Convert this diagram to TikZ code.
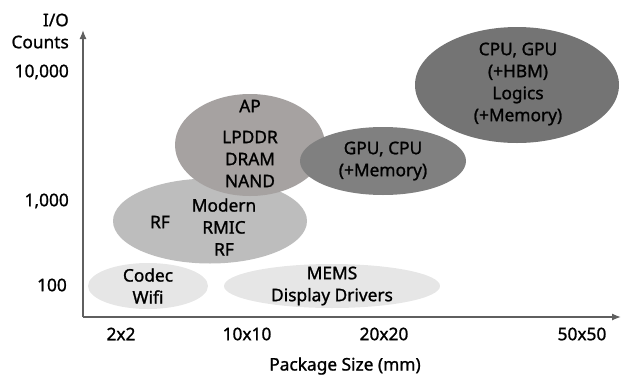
\documentclass[tikz,border=0pt]{standalone}
\usepackage{fontspec}
\setmainfont{Noto Sans}[FakeBold=1.2]
\usepackage{tikz}
\usetikzlibrary{calc,shapes.geometric,arrows.meta}
\usepackage{xcolor}
\definecolor{axisgray}{HTML}{5F5F5F}
\definecolor{palegray}{HTML}{E6E6E6}
\definecolor{midgray}{HTML}{BDBDBD}
\definecolor{warmgray}{HTML}{A6A2A1}
\definecolor{darkgray}{HTML}{808080}
\definecolor{deepgray}{HTML}{747474}
\begin{document}
\begin{tikzpicture}[x=1pt,y=-1pt,
    txt/.style={font=\fontsize{17.3}{22}\selectfont,align=center,inner sep=0pt},
    blob/.style={ellipse,inner sep=0pt,draw=none},
    axis/.style={axisgray,line width=1.3pt,-{Latex[length=9pt,width=7pt]}}]%
  \useasboundingbox (0,0) rectangle (621,378);%
  % axes
  \coordinate (origin) at (83,317);%
  \coordinate (ytip) at (83,30);%
  \coordinate (xtip) at (621,317);%
  % bubbles
  \node[blob,fill=palegray,minimum width=120,minimum height=46] (codec) at (148,286) {};%
  \node[blob,fill=palegray,minimum width=216,minimum height=44] (mems) at (332,286) {};%
  \node[blob,fill=midgray,minimum width=194,minimum height=85] (rf) at (210,221) {};%
  \node[blob,fill=warmgray,minimum width=150,minimum height=102] (ap) at (250,145) {};%
  \node[blob,fill=darkgray,minimum width=166,minimum height=68] (gpu) at (383,161) {};%
  \node[blob,fill=deepgray,minimum width=204,minimum height=116] (cpu) at (517,85) {};%
  \draw[axis] (origin) -- (ytip);%
  \draw[axis] (origin) -- (xtip);%
  % bubble texts
  \node[txt] (codectxt) at (148,286) {Codec\\Wifi};%
  \node[txt] (memstxt) at (332,286) {MEMS\\Display Drivers};%
  \node[txt] (rfleft) at (160,222) {RF};%
  \node[txt] (rftxt) at (224,227) {Modern\\RMIC\\RF};%
  \node[txt] (aptop) at (250,106) {AP};%
  \node[txt] (aptxt) at (250,159) {LPDDR\\DRAM\\NAND};%
  \node[txt] (gputxt) at (383,161) {GPU, CPU\\(+Memory)};%
  \node[txt] (cputxt) at (518,84) {CPU, GPU\\(+HBM)\\Logics\\(+Memory)};%
  % axis labels
  \node[txt,align=right,anchor=east] (ylab) at (69,31) {I/O\\Counts};%
  \node[txt,anchor=east] (y1) at (69,72) {10,000};%
  \node[txt,anchor=east] (y2) at (69,201) {1,000};%
  \node[txt,anchor=east] (y3) at (67,285) {100};%
  \node[txt] (x1) at (121,334) {2x2};%
  \node[txt] (x2) at (247,334) {10x10};%
  \node[txt] (x3) at (384,334) {20x20};%
  \node[txt] (x4) at (582,334) {50x50};%
  \node[txt] (xlab) at (345,366) {Package Size (mm)};%
\end{tikzpicture}
\end{document}
